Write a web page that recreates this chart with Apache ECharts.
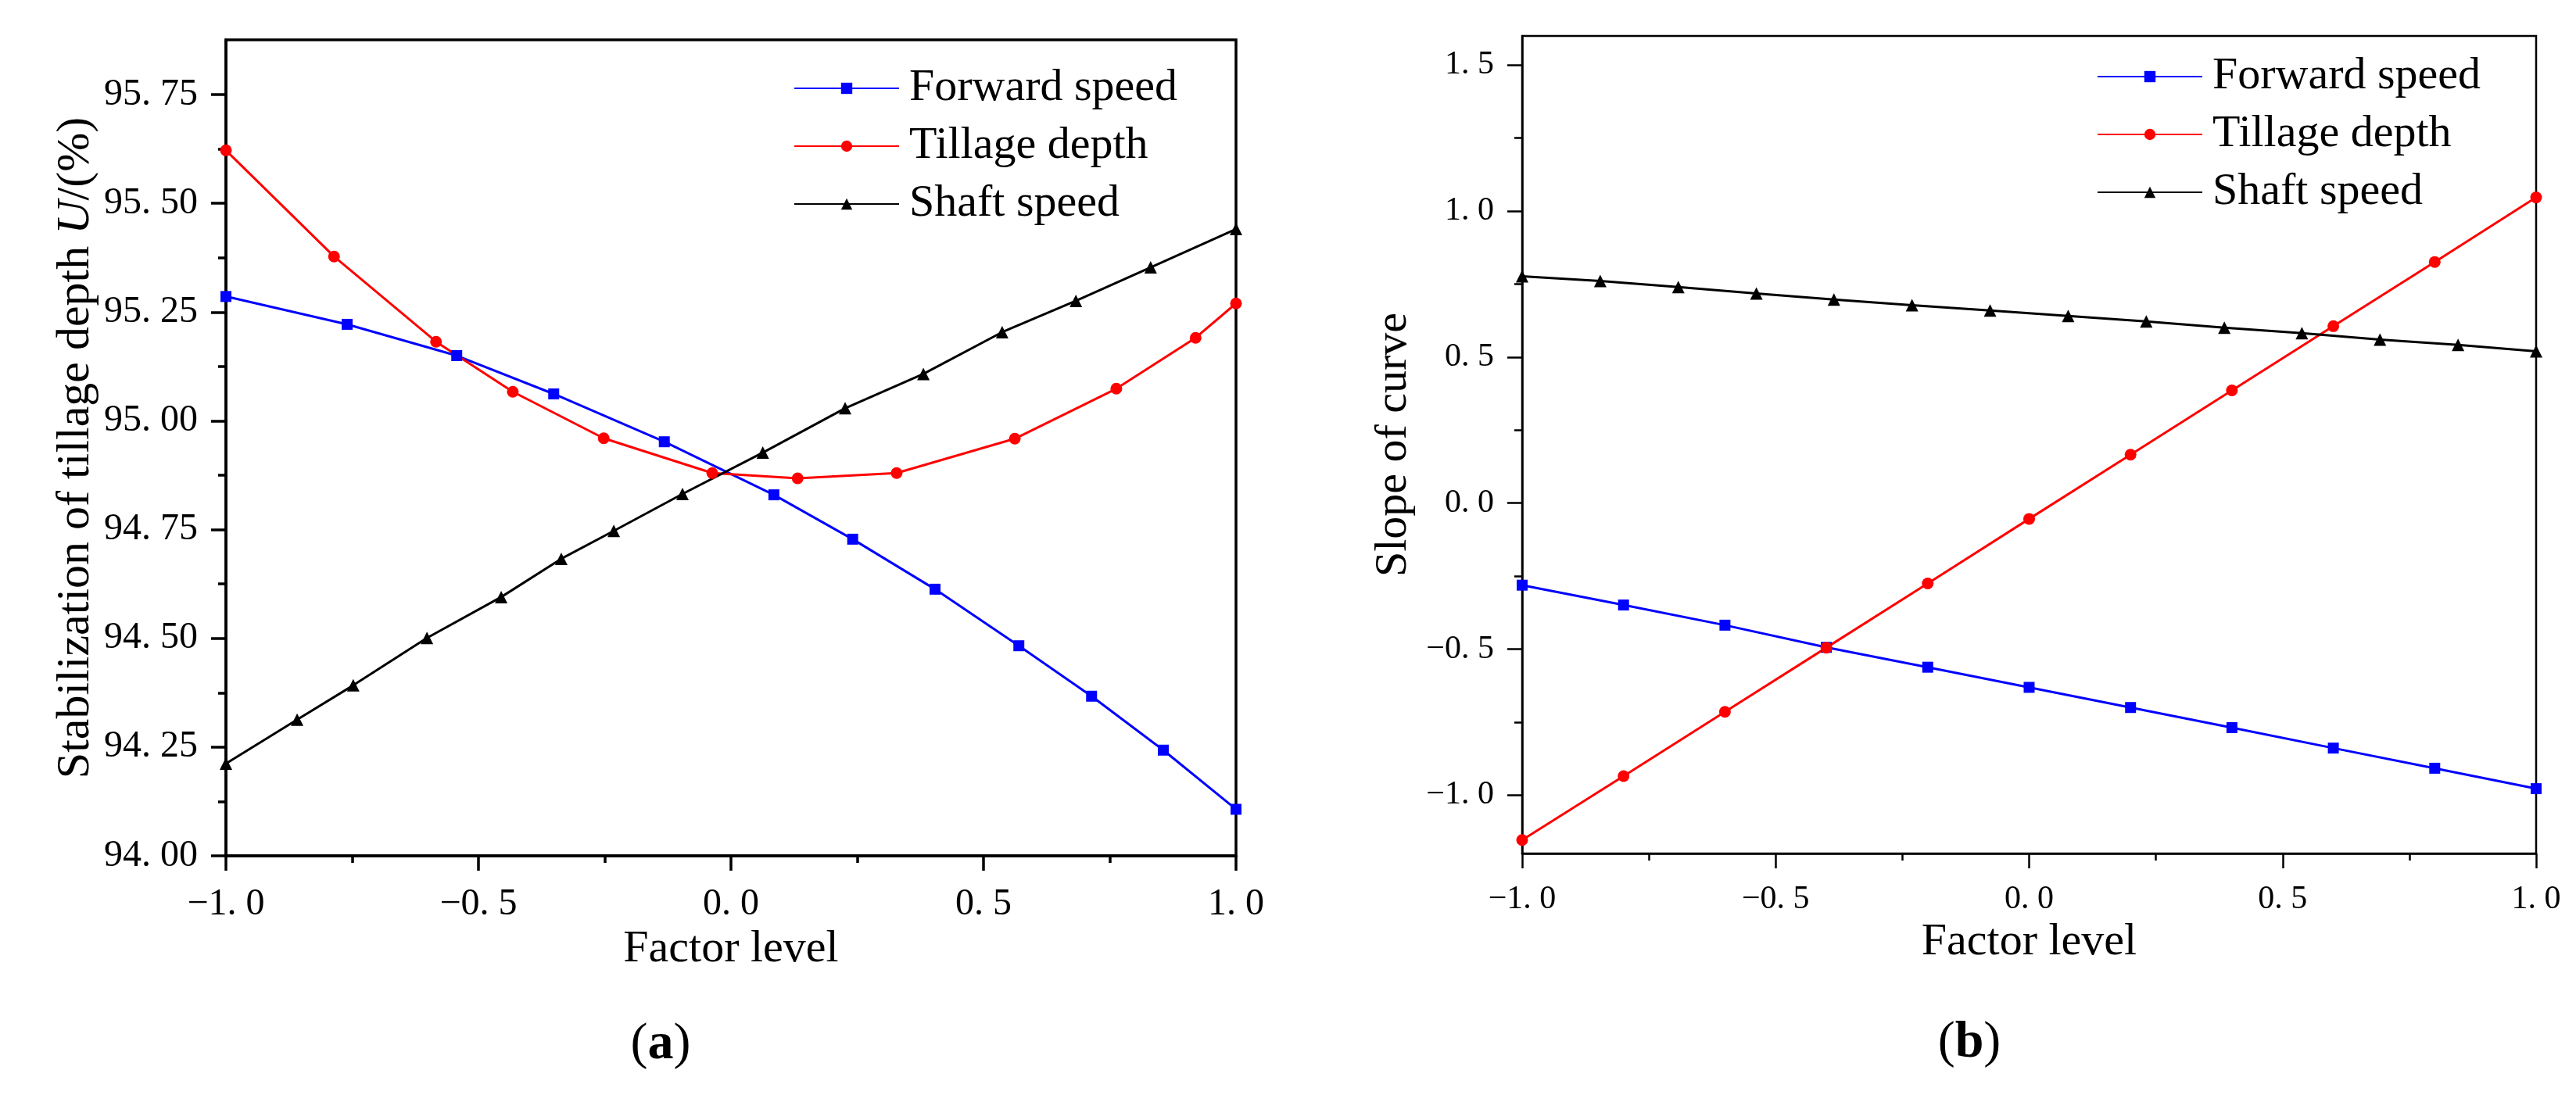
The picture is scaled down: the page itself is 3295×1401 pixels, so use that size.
<!DOCTYPE html>
<html>
<head>
<meta charset="utf-8">
<script src="https://cdn.jsdelivr.net/npm/echarts@6/dist/echarts.min.js"></script>
<style>
  html, body { margin: 0; padding: 0; background: #fff; }
  #chart { width: 3295px; height: 1401px; }
</style>
</head>
<body>
<div id="chart"></div>
<script>
var seriesNames = ["Forward speed", "Tillage depth", "Shaft speed"];

// (a) stabilization of tillage depth U/(%) vs factor level
var aForwardX = [-1, -0.76, -0.543, -0.351, -0.132, 0.085, 0.241, 0.404, 0.570, 0.714, 0.856, 1];
var aForwardY = [95.286, 95.222, 95.150, 95.062, 94.952, 94.830, 94.728, 94.613, 94.483, 94.367, 94.243, 94.107];
var aTillageX = [-1, -0.786, -0.584, -0.432, -0.252, -0.037, 0.132, 0.328, 0.562, 0.763, 0.920, 1];
var aTillageY = [95.622, 95.378, 95.182, 95.067, 94.960, 94.880, 94.868, 94.880, 94.959, 95.074, 95.191, 95.270];
var aShaftX = [-1, -0.859, -0.748, -0.602, -0.455, -0.336, -0.232, -0.096, 0.063, 0.226, 0.381, 0.537, 0.683, 0.831, 1];
var aShaftY = [94.212, 94.313, 94.392, 94.501, 94.595, 94.683, 94.747, 94.832, 94.927, 95.029, 95.108, 95.204, 95.276, 95.353, 95.441];

// (b) slope of curve vs factor level
var bForwardX = [-1, -0.8, -0.6, -0.4, -0.2, 0, 0.2, 0.4, 0.6, 0.8, 1];
var bForwardY = [-0.281, -0.349, -0.418, -0.494, -0.562, -0.631, -0.700, -0.769, -0.839, -0.908, -0.978];
var bTillageX = [-1, -0.8, -0.6, -0.4, -0.2, 0, 0.2, 0.4, 0.6, 0.8, 1];
var bTillageY = [-1.154, -0.935, -0.715, -0.495, -0.275, -0.054, 0.166, 0.386, 0.606, 0.826, 1.047];
var bShaftX = [-1, -0.846, -0.692, -0.538, -0.385, -0.231, -0.077, 0.077, 0.231, 0.385, 0.538, 0.692, 0.846, 1];
var bShaftY = [0.777, 0.761, 0.740, 0.718, 0.697, 0.678, 0.660, 0.641, 0.622, 0.601, 0.582, 0.560, 0.542, 0.520];

// tick values
var aYTicks = [94, 94.25, 94.5, 94.75, 95, 95.25, 95.5, 95.75];
var aYMinor = [94.125, 94.375, 94.625, 94.875, 95.125, 95.375, 95.625];
var bYTicks = [-1, -0.5, 0, 0.5, 1, 1.5];
var bYMinor = [-0.75, -0.25, 0.25, 0.75, 1.25];

var SERIF = "'Liberation Serif', 'Times New Roman', serif";

function zip(xs, ys) {
  return xs.map(function(x, i) { return [x, ys[i]]; });
}

function fmt(digits) {
  return function(v) {
    var s = Math.abs(v).toFixed(digits).replace(".", ". ");
    return (v < 0 ? "\u2212" : "") + s;
  };
}

function buildSeries(data, xIdx, yIdx) {
  var styles = [
    {color: "#0000ff", symbol: "rect", size: 14},
    {color: "#ff0000", symbol: "circle", size: 15},
    {color: "#000000", symbol: "triangle", size: 16}
  ];
  return data.map(function(d, i) {
    return {
      name: seriesNames[i],
      type: "line",
      xAxisIndex: xIdx,
      yAxisIndex: yIdx,
      data: d,
      symbol: styles[i].symbol,
      symbolSize: styles[i].size,
      showAllSymbol: true,
      clip: true,
      color: styles[i].color,
      lineStyle: {color: styles[i].color, width: 3},
      itemStyle: {color: styles[i].color}
    };
  });
}

function xAxis(gridIndex, labelSize, lineW) {
  return {
    gridIndex: gridIndex,
    type: "value",
    min: -1,
    max: 1,
    interval: 0.5,
    position: "bottom",
    axisLine: {onZero: false, lineStyle: {color: "#000", width: lineW}},
    axisTick: {length: 19, lineStyle: {color: "#000", width: lineW}},
    minorTick: {show: true, splitNumber: 2, length: 9, lineStyle: {color: "#000", width: lineW}},
    splitLine: {show: false},
    minorSplitLine: {show: false},
    axisLabel: {fontFamily: SERIF, fontSize: labelSize, color: "#000", margin: 38, formatter: fmt(1)},
    name: "Factor level",
    nameLocation: "middle",
    nameGap: 70,
    nameTextStyle: {fontFamily: SERIF, fontSize: 58, color: "#000"}
  };
}

function yMinor(gridIndex, min, max, values, lineW) {
  return {
    gridIndex: gridIndex,
    type: "value",
    min: min,
    max: max,
    position: "left",
    axisLine: {show: false, onZero: false},
    axisTick: {show: true, length: 10, customValues: values, lineStyle: {color: "#000", width: lineW}},
    axisLabel: {show: false},
    splitLine: {show: false}
  };
}

var myChart = echarts.init(document.getElementById("chart"), null, {renderer: "canvas"});

var options = {
  animation: false,
  backgroundColor: "#fff",
  grid: [
    {left: 289, top: 51, width: 1292, height: 1044, show: true, borderColor: "#000", borderWidth: 3.5, outerBoundsMode: "none"},
    {left: 1947, top: 46, width: 1297, height: 1046, show: true, borderColor: "#000", borderWidth: 2.5, outerBoundsMode: "none"}
  ],
  xAxis: [xAxis(0, 48, 3.5), xAxis(1, 42, 2.5)],
  yAxis: [
    {
      gridIndex: 0,
      type: "value",
      min: 94,
      max: 95.876,
      position: "left",
      axisLine: {onZero: false, lineStyle: {color: "#000", width: 3.5}},
      axisTick: {length: 19, customValues: aYTicks, lineStyle: {color: "#000", width: 3.5}},
      axisLabel: {customValues: aYTicks, fontFamily: SERIF, fontSize: 48, color: "#000", margin: 36, formatter: fmt(2)},
      splitLine: {show: false},
      name: "Stabilization of tillage depth {u|U}/(%)",
      nameLocation: "middle",
      nameGap: 162,
      nameTextStyle: {
        fontFamily: SERIF, fontSize: 60, color: "#000",
        rich: {u: {fontFamily: SERIF, fontSize: 60, fontStyle: "italic", color: "#000"}}
      }
    },
    yMinor(0, 94, 95.876, aYMinor, 3.5),
    {
      gridIndex: 1,
      type: "value",
      min: -1.2,
      max: 1.6,
      position: "left",
      axisLine: {onZero: false, lineStyle: {color: "#000", width: 2.5}},
      axisTick: {length: 19, customValues: bYTicks, lineStyle: {color: "#000", width: 2.5}},
      axisLabel: {customValues: bYTicks, fontFamily: SERIF, fontSize: 42, color: "#000", margin: 36, formatter: fmt(1)},
      splitLine: {show: false},
      name: "Slope of curve",
      nameLocation: "middle",
      nameGap: 135,
      nameTextStyle: {fontFamily: SERIF, fontSize: 58, color: "#000"}
    },
    yMinor(1, -1.2, 1.6, bYMinor, 2.5)
  ],
  legend: [
    {
      left: 1010, top: 79, orient: "vertical",
      itemWidth: 134, itemHeight: 18, itemGap: 16,
      data: seriesNames,
      textStyle: {fontFamily: SERIF, fontSize: 58, lineHeight: 58, color: "#000", padding: [0, 0, 0, 8]}
    },
    {
      left: 2677, top: 64, orient: "vertical",
      itemWidth: 134, itemHeight: 18, itemGap: 16,
      data: seriesNames,
      textStyle: {fontFamily: SERIF, fontSize: 58, lineHeight: 58, color: "#000", padding: [0, 0, 0, 8]}
    }
  ],
  graphic: [
    {
      type: "text", x: 845, y: 1337,
      style: {
        text: "({b|a})", font: "66px " + SERIF, fill: "#000",
        align: "center", verticalAlign: "middle",
        rich: {b: {fontFamily: SERIF, fontSize: 66, fontWeight: "bold", fill: "#000"}}
      }
    },
    {
      type: "text", x: 2519, y: 1335,
      style: {
        text: "({b|b})", font: "66px " + SERIF, fill: "#000",
        align: "center", verticalAlign: "middle",
        rich: {b: {fontFamily: SERIF, fontSize: 66, fontWeight: "bold", fill: "#000"}}
      }
    }
  ],
  series: buildSeries([zip(aForwardX, aForwardY), zip(aTillageX, aTillageY), zip(aShaftX, aShaftY)], 0, 0)
    .concat(buildSeries([zip(bForwardX, bForwardY), zip(bTillageX, bTillageY), zip(bShaftX, bShaftY)], 1, 2))
};

myChart.setOption(options);
</script>
</body>
</html>
